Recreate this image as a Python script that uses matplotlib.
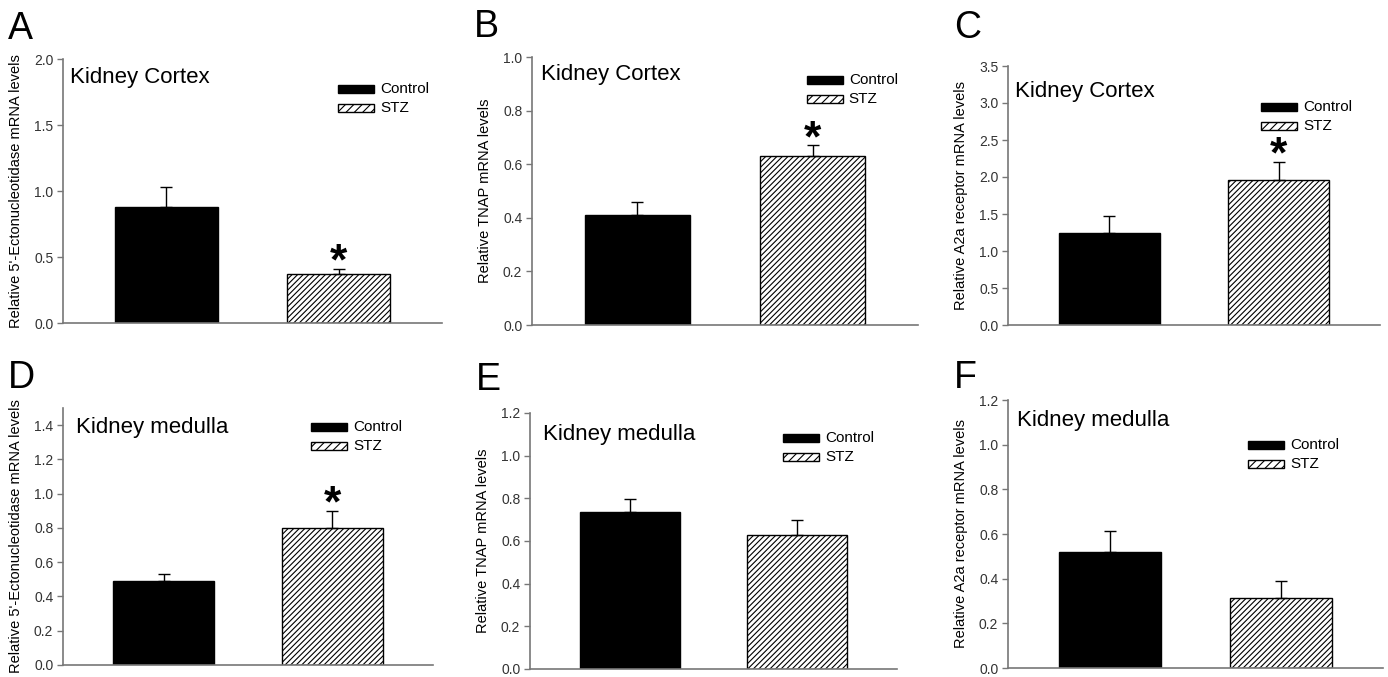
import numpy as np
import matplotlib
matplotlib.use("Agg")
import matplotlib.pyplot as plt
from matplotlib.patches import Rectangle

plt.rcParams['font.family'] = ['Liberation Sans', 'DejaVu Sans']
plt.rcParams['hatch.linewidth'] = 0.8

# === Data ===
panel_letters = ['A', 'B', 'C', 'D', 'E', 'F']
regions = ['Kidney Cortex', 'Kidney Cortex', 'Kidney Cortex',
           'Kidney medulla', 'Kidney medulla', 'Kidney medulla']
ylabels = ["Relative 5'-Ectonucleotidase mRNA levels",
           "Relative TNAP mRNA levels",
           "Relative A2a receptor mRNA levels",
           "Relative 5'-Ectonucleotidase mRNA levels",
           "Relative TNAP mRNA levels",
           "Relative A2a receptor mRNA levels"]
groups = ['Control', 'STZ']
control_mean = [0.88, 0.41, 1.25, 0.49, 0.735, 0.52]
control_sem = [0.15, 0.05, 0.22, 0.04, 0.06, 0.094]
stz_mean = [0.37, 0.63, 1.96, 0.80, 0.628, 0.313]
stz_sem = [0.04, 0.04, 0.24, 0.10, 0.07, 0.078]
significant = [True, True, True, True, False, False]
ytick_max = [2.0, 1.0, 3.5, 1.4, 1.2, 1.2]
ytick_step = [0.5, 0.2, 0.5, 0.2, 0.2, 0.2]
ylim_top = [2.0, 1.0, 3.5, 1.5, 1.2, 1.2]

# === Layout (pixels in a 1388x677 canvas) ===
W, H = 1388, 677
# left, right, top, bottom of each axes box
boxes = [(63, 442, 59, 323), (532, 918, 57, 325), (1008, 1380, 66, 325),
         (63, 433, 408, 665), (530, 897, 413, 669), (1008, 1383, 400, 668)]
letter_pos = [(8, 39), (474, 37), (954, 38), (8, 388), (476, 390), (954, 388)]
region_pos = [(0.018, 0.909), (0.023, 0.914), (0.019, 0.880),
              (0.035, 0.903), (0.035, 0.895), (0.024, 0.903)]
legend_pos = [(0.726, 0.886), (0.712, 0.914), (0.680, 0.842),
              (0.670, 0.926), (0.689, 0.902), (0.640, 0.832)]

fig = plt.figure(figsize=(W / 100, H / 100), dpi=100)
axis_grey = '#777777'

for i in range(6):
    l, r, t, b = boxes[i]
    wpx, hpx = r - l, b - t
    ax = fig.add_axes([l / W, 1 - b / H, wpx / W, hpx / H])

    x = np.array([1, 2])
    means = [control_mean[i], stz_mean[i]]
    sems = [control_sem[i], stz_sem[i]]
    ax.bar(x[0], means[0], width=0.6, color='black', edgecolor='black', linewidth=1)
    ax.bar(x[1], means[1], width=0.6, color='white', edgecolor='black',
           linewidth=1, hatch='//////')
    ax.errorbar(x, means, yerr=[[0, 0], sems], fmt='none', ecolor='black',
                elinewidth=1, capsize=4, capthick=1)

    if significant[i]:
        ax.annotate('*', xy=(x[1], means[1] + sems[1]), xytext=(0, -4),
                    textcoords='offset points', ha='center', va='baseline',
                    fontsize=32, fontweight='bold')

    ax.set_xlim(0.4, 2.6)
    ax.set_ylim(0, ylim_top[i])
    ticks = np.arange(0, ytick_max[i] + 1e-9, ytick_step[i])
    ax.set_yticks(ticks)
    ax.set_yticklabels(['%.1f' % v for v in ticks])
    ax.set_xticks([])
    for s in ['top', 'right']:
        ax.spines[s].set_visible(False)
    for s in ['left', 'bottom']:
        ax.spines[s].set_color(axis_grey)
        ax.spines[s].set_linewidth(1.2)
    ax.tick_params(axis='y', direction='out', length=4, width=1, color=axis_grey,
                   labelsize=10, labelcolor='#333333', pad=3)

    ax.set_ylabel(ylabels[i], fontsize=10.5)
    ax.yaxis.set_label_coords(-40 / wpx, 0.5)

    ax.text(region_pos[i][0], region_pos[i][1], regions[i], transform=ax.transAxes,
            fontsize=16, va='baseline', ha='left')

    # legend keys drawn by hand
    lx, ly = legend_pos[i]
    kw, kh, gap = 36 / wpx, 8 / hpx, 19 / hpx
    ax.add_patch(Rectangle((lx, ly - kh / 2), kw, kh, transform=ax.transAxes,
                           facecolor='black', edgecolor='black', lw=1, clip_on=False))
    ax.add_patch(Rectangle((lx, ly - gap - kh / 2), kw, kh, transform=ax.transAxes,
                           facecolor='white', edgecolor='black', lw=1, hatch='////',
                           clip_on=False))
    ax.text(lx + kw + 6 / wpx, ly, groups[0], transform=ax.transAxes,
            fontsize=11, va='center', ha='left')
    ax.text(lx + kw + 6 / wpx, ly - gap, groups[1], transform=ax.transAxes,
            fontsize=11, va='center', ha='left')

    fig.text(letter_pos[i][0] / W, 1 - letter_pos[i][1] / H, panel_letters[i],
             fontsize=27, va='baseline', ha='left')

fig.savefig('out.png', dpi=100)
